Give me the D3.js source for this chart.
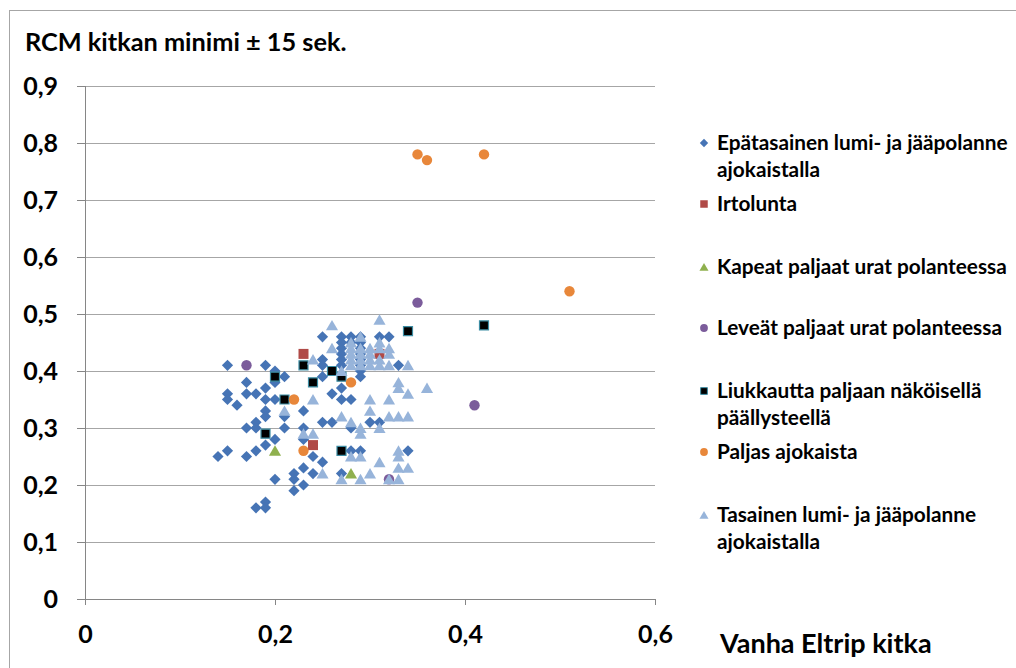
<!DOCTYPE html>
<html><head><meta charset="utf-8">
<script src="https://cdn.jsdelivr.net/npm/d3@7"></script>
<style>
html,body{margin:0;padding:0;background:#fff;}
svg{display:block;font-family:Lato,"Noto Sans",sans-serif;font-weight:bold;}
</style></head><body>
<svg id="c" width="1016" height="668"></svg>
<script>
// ---- data ----
const seriesNames = [
  "Epätasainen lumi- ja jääpolanne ajokaistalla",
  "Irtolunta",
  "Kapeat paljaat urat polanteessa",
  "Leveät paljaat urat polanteessa",
  "Liukkautta paljaan näköisellä päällysteellä",
  "Paljas ajokaista",
  "Tasainen lumi- ja jääpolanne ajokaistalla"
];
const epatasainen = [
  [0.15,0.41],[0.19,0.41],[0.20,0.40],[0.21,0.39],[0.17,0.38],[0.20,0.38],[0.15,0.36],[0.17,0.36],[0.18,0.36],
  [0.19,0.37],[0.15,0.35],[0.16,0.34],[0.19,0.35],[0.20,0.35],[0.21,0.32],[0.19,0.33],[0.19,0.32],[0.18,0.31],
  [0.17,0.30],[0.18,0.30],[0.21,0.30],[0.20,0.28],[0.19,0.27],[0.15,0.26],[0.14,0.25],[0.17,0.25],[0.18,0.26],
  [0.20,0.21],[0.18,0.16],[0.19,0.17],[0.19,0.16],
  [0.25,0.46],[0.27,0.46],[0.28,0.46],[0.29,0.46],[0.31,0.46],[0.32,0.46],
  [0.27,0.45],[0.27,0.44],[0.27,0.43],[0.27,0.42],[0.27,0.41],
  [0.29,0.45],[0.29,0.44],[0.29,0.43],[0.29,0.42],[0.29,0.41],[0.29,0.40],[0.29,0.39],
  [0.28,0.45],[0.25,0.42],[0.25,0.41],[0.25,0.39],[0.33,0.41],
  [0.26,0.36],[0.27,0.37],[0.27,0.35],[0.28,0.35],[0.23,0.33],[0.25,0.31],[0.26,0.31],[0.30,0.31],[0.31,0.31],
  [0.28,0.30],[0.23,0.30],[0.23,0.28],[0.24,0.25],[0.25,0.24],[0.23,0.23],[0.24,0.22],[0.22,0.22],[0.22,0.21],
  [0.23,0.20],[0.22,0.19],[0.27,0.22],[0.28,0.26],[0.29,0.26],[0.34,0.26]
];
const irtolunta = [[0.23,0.43],[0.24,0.27],[0.31,0.43]];
const kapeat = [[0.20,0.26],[0.28,0.22]];
const leveat = [[0.17,0.41],[0.35,0.52],[0.41,0.34],[0.32,0.21]];
const liukkautta = [[0.19,0.29],[0.20,0.39],[0.21,0.35],[0.23,0.41],[0.24,0.38],[0.26,0.40],[0.27,0.39],[0.27,0.26],[0.34,0.47],[0.42,0.48]];
const paljas = [[0.22,0.35],[0.23,0.26],[0.28,0.38],[0.35,0.78],[0.36,0.77],[0.42,0.78],[0.51,0.54]];
const tasainen = [
  [0.26,0.48],[0.31,0.49],[0.24,0.42],[0.26,0.44],
  [0.28,0.45],[0.28,0.44],[0.28,0.43],[0.28,0.42],[0.28,0.41],
  [0.29,0.46],[0.29,0.44],[0.29,0.43],[0.29,0.42],[0.29,0.41],
  [0.30,0.44],[0.30,0.43],[0.30,0.42],[0.30,0.41],
  [0.31,0.45],[0.31,0.44],[0.31,0.42],[0.31,0.41],
  [0.32,0.44],[0.32,0.43],[0.32,0.41],[0.27,0.40],[0.34,0.41],
  [0.33,0.38],[0.33,0.37],[0.34,0.36],[0.36,0.37],[0.32,0.35],[0.30,0.35],[0.24,0.35],[0.30,0.33],[0.27,0.32],
  [0.32,0.32],[0.33,0.32],[0.34,0.32],[0.28,0.31],[0.29,0.30],[0.31,0.30],[0.29,0.29],[0.24,0.29],[0.23,0.29],[0.21,0.33],
  [0.28,0.25],[0.29,0.25],[0.25,0.22],[0.27,0.21],[0.29,0.21],[0.30,0.22],[0.31,0.24],[0.33,0.26],[0.33,0.25],
  [0.33,0.23],[0.34,0.23],[0.32,0.21],[0.33,0.21]
];
const yTicks = [0,0.1,0.2,0.3,0.4,0.5,0.6,0.7,0.8,0.9];
const xTicks = [0,0.2,0.4,0.6];
const titleText = "RCM kitkan minimi ± 15 sek.";
const xTitle = "Vanha Eltrip kitka";

// ---- drawing ----
const svg = d3.select("#c");
svg.append("rect").attr("x",9.5).attr("y",10.5).attr("width",1030).attr("height",680)
  .attr("fill","#fff").attr("stroke","#a6a6a6").attr("stroke-width",1);

const x = d3.scaleLinear().domain([0,0.6]).range([85,655]);
const y = d3.scaleLinear().domain([0,0.9]).range([599,86]);
const fmt = d => d===0 ? "0" : d3.format(".1f")(d).replace(".",",");

// gridlines
const grid = svg.append("g").attr("transform","translate(85,0)")
  .call(d3.axisLeft(y).tickValues(yTicks.filter(d=>d>0)).tickSize(-570).tickFormat(""));
grid.select(".domain").remove();
grid.selectAll("line").attr("stroke","#a6a6a6").attr("shape-rendering","crispEdges");

// y axis
const ya = svg.append("g").attr("transform","translate(85,0)")
  .call(d3.axisLeft(y).tickValues(yTicks).tickSize(8).tickPadding(19).tickFormat(fmt));
ya.select(".domain").attr("stroke","#868686").attr("d","M0,86V599").attr("shape-rendering","crispEdges");
ya.selectAll("line").attr("stroke","#868686").attr("shape-rendering","crispEdges");
ya.selectAll("text").attr("font-size",25).attr("font-weight","bold").attr("fill","#000")
  .attr("font-family","Lato,sans-serif").attr("dy","0.34em");

// x axis
const xa = svg.append("g").attr("transform","translate(0,599)")
  .call(d3.axisBottom(x).tickValues(xTicks).tickSize(6).tickPadding(29).tickFormat(fmt));
xa.select(".domain").attr("stroke","#868686").attr("d","M85,0H655").attr("shape-rendering","crispEdges");
xa.selectAll("line").attr("stroke","#868686").attr("shape-rendering","crispEdges");
xa.selectAll("text").attr("font-size",25).attr("font-weight","bold").attr("fill","#000")
  .attr("font-family","Lato,sans-serif").attr("dy","0.34em");

svg.append("text").attr("x",25).attr("y",51).attr("font-size",25.3).attr("fill","#000").text(titleText);
svg.append("text").attr("x",720).attr("y",653).attr("font-size",27).attr("fill","#000").text(xTitle);

// marker shapes
const shapes = {
  diamond: s => `M0,${-s}L${s},0L0,${s}L${-s},0Z`,
  square: s => `M${-s},${-s}H${s}V${s}H${-s}Z`,
  triangle: s => `M0,${-s}L${s*1.1},${s*0.9}H${-s*1.1}Z`
};
const series = [
  {data:epatasainen, shape:"diamond", size:5.6, fill:"#4674b5", stroke:"none"},
  {data:irtolunta, shape:"square", size:5, fill:"#b04a47", stroke:"none"},
  {data:kapeat, shape:"triangle", size:5.5, fill:"#8fb04e", stroke:"none"},
  {data:leveat, shape:"circle", size:5.2, fill:"#7b5c9b", stroke:"none"},
  {data:liukkautta, shape:"square", size:4.5, fill:"#000", stroke:"#3d8da3"},
  {data:paljas, shape:"circle", size:5.2, fill:"#e8873a", stroke:"none"},
  {data:tasainen, shape:"triangle", size:5.5, fill:"#97b4da", stroke:"none"}
];
series.forEach(s=>{
  const g = svg.append("g");
  if (s.shape==="circle") {
    g.selectAll("circle").data(s.data).join("circle")
      .attr("cx",d=>x(d[0])).attr("cy",d=>y(d[1])).attr("r",s.size).attr("fill",s.fill);
  } else {
    g.selectAll("path").data(s.data).join("path")
      .attr("transform",d=>`translate(${x(d[0])},${y(d[1])})`)
      .attr("d",shapes[s.shape](s.size)).attr("fill",s.fill)
      .attr("stroke",s.stroke).attr("stroke-width",s.stroke==="none"?0:1.2);
  }
});

// legend
const legendLines = [
  ["Epätasainen lumi- ja jääpolanne","ajokaistalla"],
  ["Irtolunta"],
  ["Kapeat paljaat urat polanteessa"],
  ["Leveät paljaat urat polanteessa"],
  ["Liukkautta paljaan näköisellä","päällysteellä"],
  ["Paljas ajokaista"],
  ["Tasainen lumi- ja jääpolanne","ajokaistalla"]
];
const legendY = [143,204,267,328,391,452,515];
const lg = svg.append("g");
series.forEach((s,i)=>{
  const cy = legendY[i];
  const ms = s.size*0.75;
  if (s.shape==="circle") lg.append("circle").attr("cx",704).attr("cy",cy).attr("r",ms).attr("fill",s.fill);
  else lg.append("path").attr("transform",`translate(704,${cy})`).attr("d",shapes[s.shape](ms))
      .attr("fill",s.fill).attr("stroke",s.stroke).attr("stroke-width",s.stroke==="none"?0:1);
  const t = lg.append("text").attr("x",717).attr("y",cy).attr("font-size",20.8).attr("fill","#000");
  legendLines[i].forEach((ln,j)=>{
    t.append("tspan").attr("x",717).attr("dy", j===0 ? "0.35em" : 27).text(ln);
  });
});
</script>
</body></html>
